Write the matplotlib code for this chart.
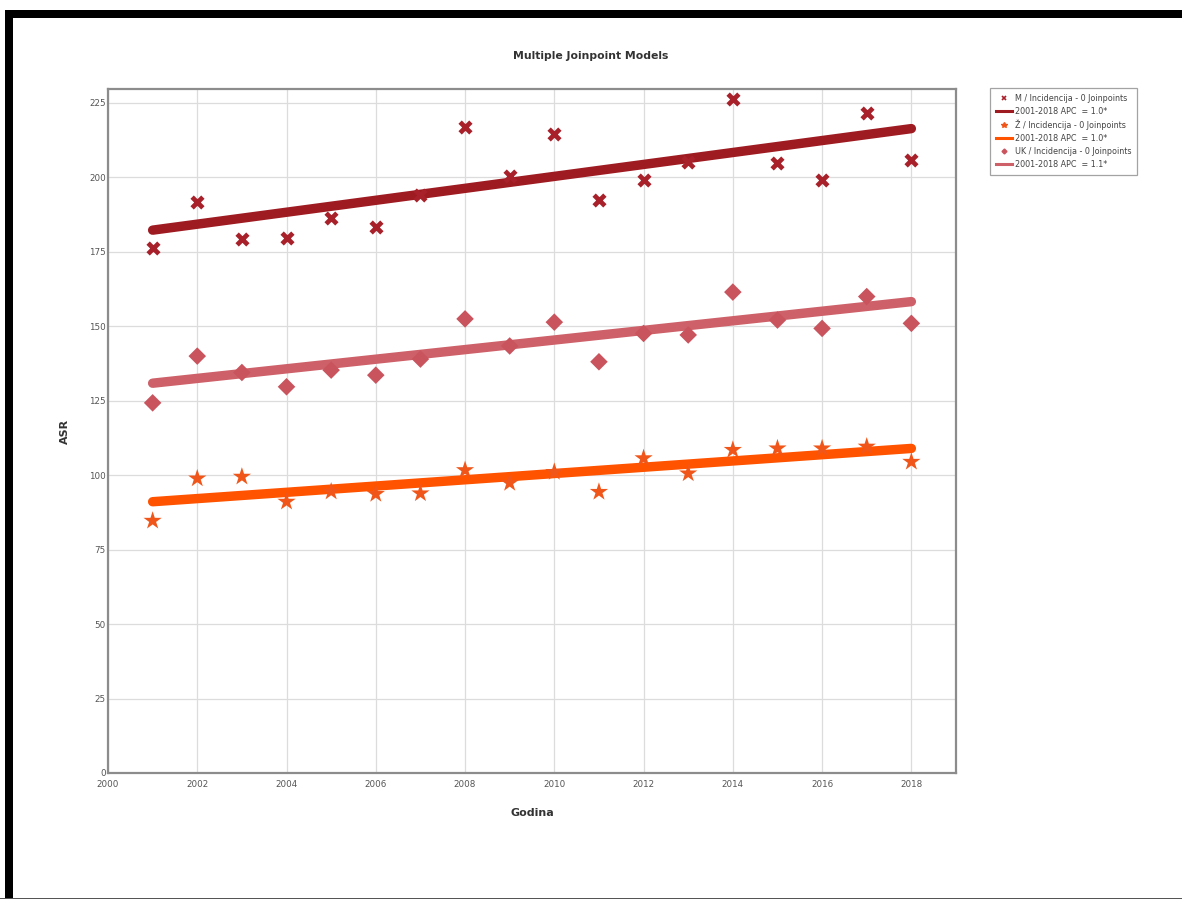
import matplotlib
matplotlib.use("Agg")
import matplotlib.pyplot as plt
from matplotlib.patches import Rectangle
from matplotlib.lines import Line2D

years = list(range(2001, 2019))
m_vals = [176.2, 191.8, 179.2, 179.8, 186.3, 183.4, 194.1, 216.9, 200.5,
          214.6, 192.4, 199.1, 205.3, 226.2, 204.9, 199.1, 221.5, 205.8]
uk_vals = [124.3, 140.0, 134.5, 129.7, 135.3, 133.6, 139.0, 152.5, 143.4,
           151.4, 138.1, 147.6, 147.1, 161.5, 152.1, 149.3, 160.0, 151.0]
z_vals = [84.7, 98.9, 99.5, 91.1, 94.5, 93.7, 93.9, 101.7, 97.4,
          101.1, 94.4, 105.7, 100.6, 108.5, 109.0, 109.0, 109.6, 104.5]

fit_years = [2001, 2018]
m_fit = [182.3, 216.4]
uk_fit = [130.9, 158.3]
z_fit = [91.1, 109.0]

legend_labels = ["M / Incidencija - 0 Joinpoints", "2001-2018 APC  = 1.0*",
                 "Ž / Incidencija - 0 Joinpoints", "2001-2018 APC  = 1.0*",
                 "UK / Incidencija - 0 Joinpoints", "2001-2018 APC  = 1.1*"]

x_ticks = list(range(2000, 2019, 2))
y_ticks = list(range(0, 226, 25))

FONT = ["Liberation Sans Narrow", "DejaVu Sans"]
plt.rcParams['font.family'] = FONT

fig = plt.figure(figsize=(11.82, 9), dpi=100)
W, H = 1182, 900

# black frame pieces
fig.patches.append(Rectangle((5 / W, 1 - 18 / H), 1 - 5 / W, 8 / H, transform=fig.transFigure,
                             facecolor="black", edgecolor="none"))
fig.patches.append(Rectangle((5 / W, 2 / H), 8 / W, 1 - 20 / H, transform=fig.transFigure,
                             facecolor="black", edgecolor="none"))
fig.patches.append(Rectangle((0, 1 / H), 1, 1.5 / H, transform=fig.transFigure,
                             facecolor="#555555", edgecolor="none"))

ax = fig.add_axes([108 / W, 127 / H, 848 / W, 684 / H])

c_m_pt, c_m_ln = "#a8202a", "#9e1b22"
c_uk_pt, c_uk_ln = "#c9545e", "#cd6068"
c_z_pt, c_z_ln = "#f0561a", "#ff5300"

ax.plot(fit_years, m_fit, color=c_m_ln, lw=6.8, solid_capstyle="round", zorder=2)
ax.plot(fit_years, uk_fit, color=c_uk_ln, lw=6.8, solid_capstyle="round", zorder=2)
ax.plot(fit_years, z_fit, color=c_z_ln, lw=6.8, solid_capstyle="round", zorder=2)

ax.scatter(years, m_vals, marker="x", s=60, linewidths=3.4, color=c_m_pt, zorder=3)
ax.scatter(years, uk_vals, marker="D", s=80, color=c_uk_pt, edgecolors="none", zorder=3)
ax.scatter(years, z_vals, marker="*", s=190, color=c_z_pt, edgecolors="none", zorder=3)

ax.set_xlim(2000, 2019)
ax.set_ylim(0, 229.7)
ax.set_xticks(x_ticks)
ax.set_yticks(y_ticks)
ax.grid(True, color="#dcdcdc", lw=0.9)
ax.set_axisbelow(True)
for s in ax.spines.values():
    s.set_color("#8c8c8c")
    s.set_linewidth(1.6)
ax.tick_params(axis="both", length=0, labelsize=6.3, labelcolor="#555555", pad=5)
ax.tick_params(axis="y", pad=1.5)

ax.set_xlabel("Godina", fontsize=8, fontweight="bold", color="#333333", labelpad=14)
ax.set_ylabel("ASR", fontsize=8, fontweight="bold", color="#333333", labelpad=14)
fig.text(0.5, 1 - 56 / H, "Multiple Joinpoint Models", ha="center", va="center",
         fontsize=7.8, fontweight="bold", color="#333333")

handles = [
    Line2D([], [], marker="x", color=c_m_pt, ls="none", ms=3.5, mew=1.2),
    Line2D([], [], color=c_m_ln, lw=2.2),
    Line2D([], [], marker="*", color=c_z_pt, ls="none", ms=4),
    Line2D([], [], color=c_z_ln, lw=2.2),
    Line2D([], [], marker="D", color=c_uk_pt, ls="none", ms=2.5),
    Line2D([], [], color=c_uk_ln, lw=2.2),
]
leg = fig.legend(handles, legend_labels, loc="upper left",
                 bbox_to_anchor=(990 / W, 1 - 88 / H), fontsize=5.8, frameon=True,
                 fancybox=False, edgecolor="#8c8c8c", handlelength=2.0,
                 handletextpad=0.4, labelspacing=0.5, borderpad=0.7, borderaxespad=0)
leg.get_frame().set_linewidth(0.9)
for t in leg.get_texts():
    t.set_color("#444444")

fig.savefig("out.png", dpi=100, facecolor="white")
